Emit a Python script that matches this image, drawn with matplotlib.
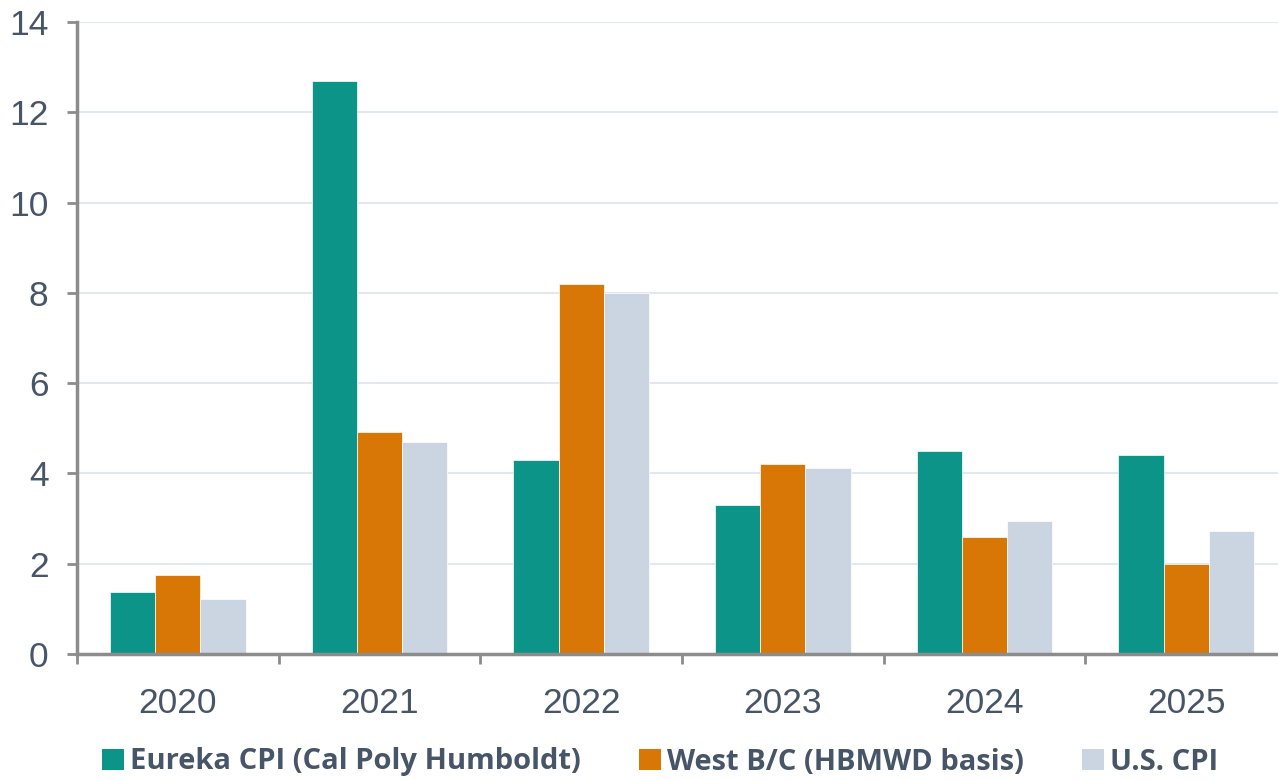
import numpy as np
import matplotlib.pyplot as plt
from matplotlib.patches import Patch
from matplotlib.ticker import FixedLocator

# values (% change per year)
years = ['2020', '2021', '2022', '2023', '2024', '2025']
eureka_cpi = [1.38, 12.70, 4.29, 3.29, 4.49, 4.40]
west_bc = [1.75, 4.92, 8.20, 4.21, 2.59, 2.00]
us_cpi = [1.22, 4.70, 8.00, 4.11, 2.95, 2.72]

series_names = ['Eureka CPI (Cal Poly Humboldt)', 'West B/C (HBMWD basis)', 'U.S. CPI']
series_colors = ['#0d9488', '#d97706', '#cbd5e1']

txt_col = '#475569'
axis_col = '#8c8c8c'

plt.rcParams['font.family'] = ['Liberation Sans', 'DejaVu Sans']

fig = plt.figure(figsize=(12.78, 7.80), dpi=100)
ax = fig.add_axes([77 / 1278, 1 - 654 / 780, 1210 / 1278, 632 / 780])

x = np.arange(len(years))
bar_w = 0.224
for i, (vals, col) in enumerate(zip([eureka_cpi, west_bc, us_cpi], series_colors)):
    ax.bar(x + (i - 1) * bar_w, vals, width=bar_w, color=col,
           edgecolor='white', linewidth=0.5, zorder=3)

ax.set_xlim(-0.5, len(years) - 0.5)
ax.set_ylim(0, 14)
ax.set_yticks(range(0, 15, 2))
ax.grid(axis='y', color='#e2e8f0', linewidth=1.5, zorder=0)

# year labels at centres, tick marks at the category borders
ax.set_xticks(x)
ax.set_xticklabels(years)
ax.xaxis.set_minor_locator(FixedLocator(np.arange(-0.5, len(years), 1.0)))
ax.tick_params(axis='x', which='major', length=0, pad=24, labelsize=25.5, labelcolor=txt_col)
ax.tick_params(axis='x', which='minor', length=7.5, width=2, color=axis_col, direction='out')
ax.tick_params(axis='y', length=7.5, width=2, color=axis_col, pad=13, labelsize=25.5, labelcolor=txt_col)

for side in ['top', 'right']:
    ax.spines[side].set_visible(False)
for side in ['left', 'bottom']:
    ax.spines[side].set_color(axis_col)
    ax.spines[side].set_linewidth(2.5)
    ax.spines[side].set_zorder(4)

handles = [Patch(facecolor=c, edgecolor='none') for c in series_colors]
fig.legend(handles, series_names, loc='center', bbox_to_anchor=(660 / 1278, 1 - 762 / 780),
           ncol=3, frameon=False, handlelength=0.75, handleheight=0.75, handletextpad=0.2,
           columnspacing=2.0,
           prop={'family': ['Open Sans', 'DejaVu Sans'], 'weight': 'bold', 'size': 21},
           labelcolor=txt_col)

plt.savefig('out.png', dpi=100)
